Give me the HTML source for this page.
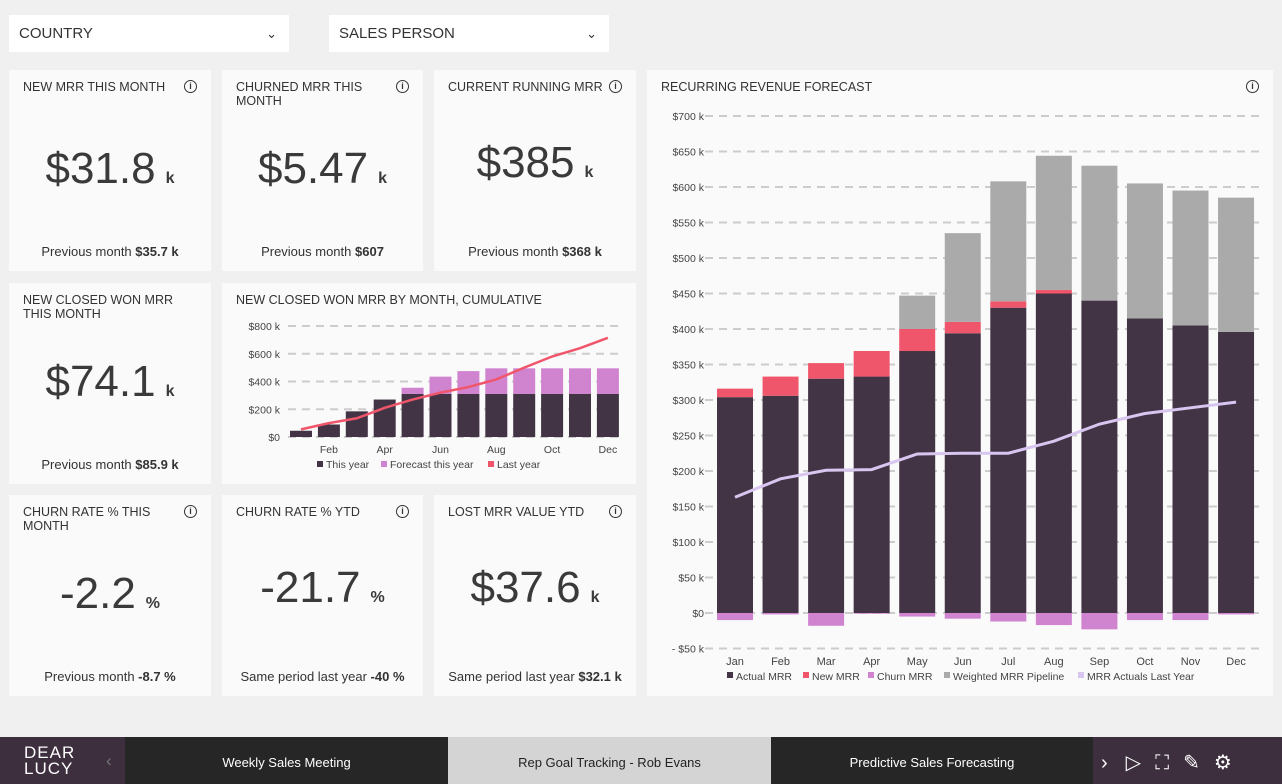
<!DOCTYPE html>
<html><head><meta charset="utf-8"><style>
html,body{margin:0;width:1282px;height:784px;overflow:hidden}
body{background:#f0f0f0;font-family:"Liberation Sans",sans-serif;position:relative;color:#333}
.dd{position:absolute;top:15px;height:37px;width:280px;background:#fff;font-size:15px;line-height:37px;padding-left:10px;box-sizing:border-box}
.dd span{position:absolute;right:12px;top:0;font-size:13px}
.card{position:absolute;background:#fafafa;box-sizing:border-box}
.t{position:absolute;left:14px;top:10px;font-size:12.5px;line-height:14px;width:150px;text-transform:uppercase}
.i{position:absolute;right:14px;top:10px;width:11px;height:11px;border:1.3px solid #333;border-radius:50%;font-size:9px;line-height:11px;text-align:center;font-weight:bold}
.v{position:absolute;left:0;right:0;top:74px;text-align:center;font-size:44px;font-weight:300;color:#3a3a3a}
.v small{font-size:16px;font-weight:bold;margin-left:10px}
.p{position:absolute;left:0;right:0;bottom:12px;text-align:center;font-size:13px}
.bar{position:absolute;top:737px;height:47px;color:#fff;font-size:13px;line-height:52px;text-align:center}
</style></head><body>
<div class="dd" style="left:9px">COUNTRY<span>&#8964;</span></div>
<div class="dd" style="left:329px">SALES PERSON<span>&#8964;</span></div>

<div class="card" style="left:9px;top:70px;width:202px;height:201px"><div class="t">New MRR this month</div><div class="i">i</div><div class="v">$31.8<small>k</small></div><div class="p">Previous month <b>$35.7 k</b></div></div>
<div class="card" style="left:222px;top:70px;width:201px;height:201px"><div class="t">Churned MRR this month</div><div class="i">i</div><div class="v">$5.47<small>k</small></div><div class="p">Previous month <b>$607</b></div></div>
<div class="card" style="left:434px;top:70px;width:202px;height:201px"><div class="t" style="width:170px">Current running MRR</div><div class="i">i</div><div class="v" style="top:68px">$385<small>k</small></div><div class="p">Previous month <b>$368 k</b></div></div>
<div class="card" style="left:9px;top:283px;width:202px;height:201px"><div class="t" style="width:180px">New closed won MRR this month</div><div class="v">$74.1<small>k</small></div><div class="p">Previous month <b>$85.9 k</b></div></div>
<div class="card" style="left:9px;top:495px;width:202px;height:201px"><div class="t">Churn rate % this month</div><div class="i">i</div><div class="v">-2.2<small>%</small></div><div class="p">Previous month <b>-8.7 %</b></div></div>
<div class="card" style="left:222px;top:495px;width:201px;height:201px"><div class="t">Churn rate % YTD</div><div class="i">i</div><div class="v" style="top:68px">-21.7<small>%</small></div><div class="p">Same period last year <b>-40 %</b></div></div>
<div class="card" style="left:434px;top:495px;width:202px;height:201px"><div class="t">Lost MRR value YTD</div><div class="i">i</div><div class="v" style="top:68px">$37.6<small>k</small></div><div class="p">Same period last year <b>$32.1 k</b></div></div>

<div class="card" style="left:222px;top:283px;width:414px;height:201px"><div class="t" style="width:380px">New closed won MRR by month, cumulative</div></div>
<div class="card" style="left:647px;top:70px;width:626px;height:626px"><div class="t" style="width:380px">Recurring revenue forecast</div><div class="i">i</div></div>

<svg id="s" width="1282" height="784" style="position:absolute;left:0;top:0" font-family="Liberation Sans, sans-serif"></svg>

<div class="bar" style="left:0;width:125px;background:#3d2f3d;text-align:left;line-height:16px;padding:8px 0 0 24px;box-sizing:border-box;font-size:17px;letter-spacing:1px">DEAR<br>LUCY<span style="position:absolute;left:106px;top:16px;color:#777">&#8249;</span></div>
<div class="bar" style="left:125px;width:323px;background:#262626">Weekly Sales Meeting</div>
<div class="bar" style="left:448px;width:323px;background:#d4d4d4;color:#222">Rep Goal Tracking - Rob Evans</div>
<div class="bar" style="left:771px;width:322px;background:#262626">Predictive Sales Forecasting</div>
<div class="bar" style="left:1093px;width:189px;background:#3d2f3d;font-size:20px;text-align:left"><span style="margin-left:8px">&#8250;</span><span style="margin-left:18px">&#9655;</span><span style="margin-left:14px">&#9974;</span><span style="margin-left:14px">&#9998;</span><span style="margin-left:14px">&#9881;</span></div>

<script>
const months=["Jan","Feb","Mar","Apr","May","Jun","Jul","Aug","Sep","Oct","Nov","Dec"];
const actual=[304,306,330,333,369,394,430,450,440,415,405,396];
const newMrr=[12,27,22,36,31,16,9,5,0,0,0,0];
const churn=[-10,-2,-18,-1,-5,-8,-12,-17,-23,-10,-10,-2];
const pipeline=[0,0,0,0,47,125,169,189,190,190,190,189];
const lastYear=[163,189,201,202,224,225,225,242,266,281,289,297];
const bigTicks=[-50,0,50,100,150,200,250,300,350,400,450,500,550,600,650,700];
const thisYear=[45,90,185,270,310,310,310,310,310,310,310,310];
const forecast=[0,0,0,0,45,125,165,185,185,185,185,185];
const lastYearCum=[55,100,135,210,270,320,360,415,500,580,640,715];
const smallTicks=[0,200,400,600,800];

const s=document.getElementById('s');const NS='http://www.w3.org/2000/svg';
function mk(t,a,txt){const e=document.createElementNS(NS,t);for(const k in a)e.setAttribute(k,a[k]);if(txt!==undefined)e.textContent=txt;s.appendChild(e);return e;}
const by=v=>613-v*(497/700), bx=i=>735+i*45.55;
bigTicks.forEach(t=>{const g=mk('line',{x1:705,x2:1265,y1:by(t),y2:by(t),stroke:'#ccc','stroke-width':2,'stroke-dasharray':'8,6'});

const l=mk('text',{x:704,y:by(t)+4,'font-size':10.5,'text-anchor':'end',fill:'#444'},t<0?'- $'+(-t)+' k':t==0?'$0':'$'+t+' k');
});
const bw=36;
months.forEach((m,i)=>{const x=bx(i)-bw/2;
 const segs=[[0,actual[i],'#433445','actual-mrr-bar'],[actual[i],actual[i]+newMrr[i],'#f0566b','new-mrr-bar'],[actual[i]+newMrr[i],actual[i]+newMrr[i]+pipeline[i],'#aaaaaa','pipeline-bar'],[churn[i],0,'#d084d0','churn-mrr-bar']];
 segs.forEach(sg=>{if(sg[1]-sg[0]<=0)return;const r=mk('rect',{x:x,y:by(sg[1]),width:bw,height:by(sg[0])-by(sg[1]),fill:sg[2]});
 });
 const l=mk('text',{x:bx(i),y:665,'font-size':11,'text-anchor':'middle',fill:'#444'},m);
 });
const lp=mk('polyline',{points:lastYear.map((v,i)=>bx(i)+','+by(v)).join(' '),fill:'none',stroke:'#d8c6f0','stroke-width':3});

[['Actual MRR','#433445',727],['New MRR','#f0566b',803],['Churn MRR','#d084d0',868],['Weighted MRR Pipeline','#aaaaaa',944],['MRR Actuals Last Year','#d8c6f0',1078]].forEach(L=>{
 const r=mk('rect',{x:L[2],y:672,width:6,height:6,fill:L[1]});
 const t=mk('text',{x:L[2]+9,y:680,'font-size':10.5,fill:'#444'},L[0]);});
const sy=v=>437-v*(111/800), sx=i=>301+i*27.9;
smallTicks.forEach(t=>{const g=mk('line',{x1:288,x2:620,y1:sy(t),y2:sy(t),stroke:'#ccc','stroke-width':2,'stroke-dasharray':'8,6'});

const l=mk('text',{x:280,y:sy(t)+4,'font-size':10.5,'text-anchor':'end',fill:'#444'},t==0?'$0':'$'+t+' k');
});
months.forEach((m,i)=>{const x=sx(i)-11;
 const r=mk('rect',{x:x,y:sy(thisYear[i]),width:22,height:sy(0)-sy(thisYear[i]),fill:'#433445'});
 if(forecast[i]>0){const f=mk('rect',{x:x,y:sy(thisYear[i]+forecast[i]),width:22,height:sy(0)-sy(forecast[i]),fill:'#d084d0'});}
 if(i%2==1){const l=mk('text',{x:sx(i),y:453,'font-size':10.5,'text-anchor':'middle',fill:'#444'},m);}});
const sl=mk('polyline',{points:lastYearCum.map((v,i)=>sx(i)+','+sy(v)).join(' '),fill:'none',stroke:'#f0566b','stroke-width':2.5});

[['This year','#433445',317],['Forecast this year','#d084d0',381],['Last year','#f0566b',488]].forEach(L=>{
 const r=mk('rect',{x:L[2],y:461,width:6,height:6,fill:L[1]});
 const t=mk('text',{x:L[2]+9,y:468,'font-size':10.5,fill:'#444'},L[0]);});
</script>
</body></html>
